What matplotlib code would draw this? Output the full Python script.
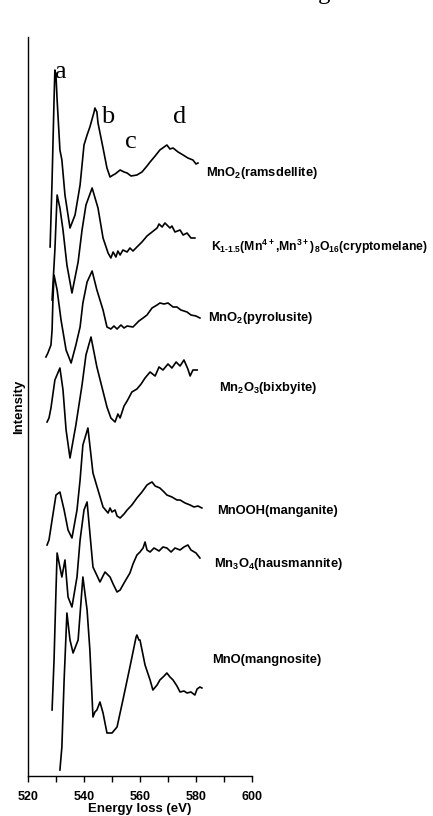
import numpy as np
import matplotlib
matplotlib.use("Agg")
import matplotlib.pyplot as plt
from matplotlib.ticker import MultipleLocator

# O K-edge ELNES of manganese oxides, stacked (arbitrary intensity units, offsets included)

ram_e = [527.9, 528.6, 529.3, 529.6, 530.0, 530.4, 531.4, 532.1, 533.2, 535.0, 536.8, 538.6, 540.0,
         541.1, 542.1, 543.6, 543.9, 544.6, 545.0, 546.8, 548.2, 549.3, 550.4, 551.1, 552.9, 554.3,
         555.4, 556.8, 558.9, 560.7, 562.5, 563.6, 565.4, 567.1, 568.6, 569.6, 570.7, 571.8, 573.6,
         575.4, 577.1, 578.9, 580.0, 580.7]
ram_i = [529, 596, 676, 706, 700, 676, 626, 616, 581, 548, 561, 591, 631, 641, 649, 664, 668, 664,
         653, 628, 608, 599, 601, 602, 606, 604, 603, 600, 601, 604, 610, 614, 620, 626, 629, 631,
         627, 628, 624, 621, 618, 616, 612, 613]

cry_e = [528.6, 529.6, 530.4, 531.4, 532.5, 533.9, 535.7, 537.9, 539.3, 540.7, 542.9, 545.0, 546.8,
         548.6, 549.6, 550.4, 551.4, 552.1, 552.9, 553.9, 555.4, 556.4, 557.5, 558.9, 560.7, 562.5,
         564.3, 566.1, 566.8, 567.9, 568.9, 570.7, 571.4, 572.5, 574.3, 575.4, 576.8, 578.2, 579.6]
cry_i = [476, 526, 581, 568, 546, 511, 483, 514, 546, 571, 588, 568, 538, 523, 518, 524, 519, 525,
         521, 526, 524, 528, 525, 529, 534, 540, 544, 548, 552, 549, 553, 548, 550, 544, 546, 541,
         543, 538, 538]

pyr_e = [526.4, 527.1, 528.2, 528.6, 528.9, 529.3, 530.4, 531.8, 533.6, 535.4, 537.1, 538.6, 539.6,
         541.1, 542.9, 544.6, 546.8, 548.2, 549.6, 550.7, 551.8, 553.2, 554.3, 555.4, 557.5, 559.6,
         561.1, 562.5, 564.3, 566.1, 567.1, 568.6, 570.0, 571.8, 573.2, 574.6, 576.8, 578.2, 580.0,
         581.4]
pyr_i = [419, 423, 431, 446, 476, 501, 486, 456, 426, 413, 431, 449, 473, 494, 505, 486, 466, 449,
         447, 450, 447, 451, 448, 450, 449, 455, 458, 461, 468, 471, 473, 472, 473, 469, 469, 466,
         464, 461, 460, 458]

bix_e = [526.8, 527.5, 528.2, 529.6, 531.4, 532.5, 533.6, 535.0, 537.1, 539.3, 540.7, 542.5, 544.6,
         546.4, 548.2, 549.6, 551.1, 552.1, 552.9, 554.3, 555.4, 557.1, 558.9, 560.4, 561.8, 563.6,
         565.4, 566.8, 568.2, 570.0, 571.4, 572.9, 574.3, 575.7, 577.1, 577.9, 578.9, 580.4]
bix_i = [354, 358, 368, 396, 408, 386, 346, 318, 351, 391, 421, 439, 409, 389, 369, 358, 354, 362,
         358, 370, 375, 384, 387, 392, 398, 404, 400, 409, 406, 412, 408, 414, 410, 416, 407, 400,
         406, 406]

mng_e = [526.8, 527.5, 528.6, 530.0, 531.4, 532.9, 534.3, 535.7, 537.5, 538.6, 539.6, 541.4, 543.2,
         545.0, 546.8, 548.6, 549.3, 550.0, 551.1, 551.8, 552.9, 554.3, 555.4, 557.1, 558.9, 560.7,
         562.5, 563.6, 564.3, 565.4, 567.1, 568.6, 569.6, 571.4, 573.2, 574.3, 576.1, 577.9, 579.3,
         580.7, 582.1]
mng_i = [231, 236, 256, 281, 284, 266, 246, 238, 266, 296, 331, 348, 303, 286, 269, 263, 268, 264,
         266, 260, 258, 262, 266, 271, 278, 284, 291, 293, 294, 290, 288, 284, 281, 279, 276, 276,
         273, 271, 269, 270, 268]

hau_e = [528.6, 529.3, 530.0, 530.4, 532.1, 533.2, 534.3, 535.7, 537.5, 538.6, 540.0, 541.1, 543.2,
         545.7, 547.5, 549.3, 550.4, 551.8, 552.9, 554.3, 556.4, 557.5, 558.9, 560.0, 561.1, 561.8,
         562.5, 563.6, 565.0, 566.8, 568.2, 569.6, 571.1, 572.5, 574.3, 575.7, 577.1, 578.2, 580.0,
         581.4]
hau_i = [66, 116, 186, 223, 199, 216, 179, 169, 199, 236, 266, 274, 209, 194, 204, 199, 192, 184,
         186, 193, 203, 212, 221, 224, 228, 234, 226, 224, 228, 225, 229, 228, 224, 228, 226, 229,
         231, 226, 223, 218]

mno_e = [531.4, 532.1, 532.9, 533.9, 535.0, 536.1, 537.9, 539.6, 541.1, 542.1, 543.2, 543.9, 544.6,
         545.7, 546.8, 548.2, 550.0, 551.8, 553.9, 556.4, 558.6, 558.9, 559.6, 560.0, 561.8, 563.6,
         564.6, 566.1, 567.1, 568.6, 569.6, 570.7, 571.8, 573.2, 574.3, 575.7, 576.8, 578.2, 579.6,
         580.4, 581.4, 582.1]
mno_i = [6, 29, 96, 163, 136, 123, 136, 199, 166, 126, 59, 64, 66, 74, 63, 43, 43, 49, 76, 109, 139,
         141, 136, 136, 111, 96, 86, 91, 96, 100, 103, 99, 96, 90, 84, 85, 83, 84, 81, 87, 89, 88]

spectra = [(ram_e, ram_i), (cry_e, cry_i), (pyr_e, pyr_i), (bix_e, bix_i),
           (mng_e, mng_i), (hau_e, hau_i), (mno_e, mno_i)]

names = [r"MnO$_\mathbf{2}$(ramsdellite)",
         r"K$_\mathbf{1\text{-}1.5}$(Mn$^\mathbf{4+}$,Mn$^\mathbf{3+}$)$_\mathbf{8}$O$_\mathbf{16}$(cryptomelane)",
         r"MnO$_\mathbf{2}$(pyrolusite)",
         r"Mn$_\mathbf{2}$O$_\mathbf{3}$(bixbyite)",
         "MnOOH(manganite)",
         r"Mn$_\mathbf{3}$O$_\mathbf{4}$(hausmannite)",
         "MnO(mangnosite)"]
name_size = [9.3, 8.8, 9.3, 9.3, 9.3, 9.3, 9.3]
name_e = [583.6, 585.4, 584.3, 588.2, 587.5, 586.4, 585.7]
name_i = [603, 529, 458, 388, 265, 212, 116]

peak_tags = ["a", "b", "c", "d"]
tag_e = [531.4, 548.6, 556.8, 574.3]
tag_i = [704, 659, 634, 659]

plt.rcParams['font.family'] = ['Liberation Sans', 'DejaVu Sans']
plt.rcParams['mathtext.fontset'] = 'custom'
plt.rcParams['mathtext.rm'] = 'Liberation Sans:bold'
plt.rcParams['mathtext.bf'] = 'Liberation Sans:bold'

fig = plt.figure(figsize=(4.33, 8.16), dpi=100)
ax = fig.add_axes([28 / 433, 1 - 776 / 816, 224 / 433, 739 / 816])

for e, i in spectra:
    ax.plot(e, i, color='black', lw=1.2, solid_joinstyle='round')

for txt, sz, x, y in zip(names, name_size, name_e, name_i):
    ax.text(x, y, txt, fontsize=sz, fontweight='bold', va='center', ha='left', clip_on=False)

for t, x, y in zip(peak_tags, tag_e, tag_i):
    ax.text(x, y, t, fontsize=19, family='Liberation Serif', ha='center', va='center')

ax.set_xlim(520, 600)
ax.set_ylim(0, 739)
ax.xaxis.set_major_locator(MultipleLocator(20))
ax.xaxis.set_minor_locator(MultipleLocator(10))
ax.tick_params(axis='x', which='both', direction='out', length=4, width=1.0,
               labelsize=9, pad=7)
for lab in ax.get_xticklabels():
    lab.set_fontweight('bold')
ax.set_yticks([])
for s in ['top', 'right']:
    ax.spines[s].set_visible(False)
ax.spines['left'].set_linewidth(1.0)
ax.spines['bottom'].set_linewidth(1.0)

ax.set_xlabel("Energy loss (eV)", fontsize=9.5, fontweight='bold', labelpad=-0.5)
ax.set_ylabel("Intensity", fontsize=9.5, fontweight='bold', labelpad=2)

fig.text(0.748, 1.0 + 1 / 816, "g", fontsize=18, family='Liberation Serif',
         ha='center', va='baseline')

fig.savefig("out.png", dpi=100, facecolor='white')
